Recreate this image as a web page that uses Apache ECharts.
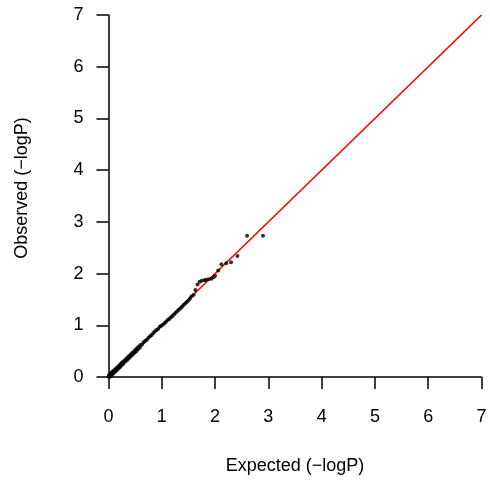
<!DOCTYPE html>
<html>
<head>
<meta charset="utf-8">
<script src="https://cdn.jsdelivr.net/npm/echarts@6/dist/echarts.min.js"></script>
<style>html,body{margin:0;padding:0;background:#fff}#c{width:490px;height:481px}</style>
</head>
<body>
<div id="c"></div>
<script>
var expectedVals = [0.005,0.01,0.02,0.03,0.04,0.05,0.06,0.07,0.08,0.09,0.10,0.11,0.12,0.13,0.14,0.15,0.16,0.17,0.18,0.19,0.20,0.21,0.22,0.23,0.24,0.25,0.26,0.27,0.28,0.30,0.32,0.33,0.35,0.36,0.38,0.39,0.41,0.42,0.44,0.45,0.47,0.48,0.50,0.51,0.53,0.54,0.56,0.57,0.59,0.60,0.63,0.66,0.69,0.72,0.75,0.78,0.81,0.84,0.87,0.90,0.93,0.96,0.99,1.02,1.05,1.08,1.11,1.14,1.17,1.20,1.23,1.26,1.29,1.32,1.35,1.38,1.41,1.44,1.47,1.50,1.53,1.56,1.60,1.63,1.67,1.71,1.75,1.80,1.83,1.88,1.93,1.97,2.00,2.06,2.12,2.21,2.30,2.42,2.60,2.90];
var observedVals = [0.01,0.04,0.00,0.05,0.02,0.08,0.04,0.09,0.06,0.12,0.08,0.13,0.10,0.15,0.12,0.17,0.14,0.19,0.16,0.21,0.18,0.23,0.20,0.25,0.22,0.27,0.24,0.29,0.26,0.32,0.30,0.35,0.33,0.38,0.36,0.41,0.39,0.44,0.42,0.47,0.45,0.50,0.48,0.53,0.51,0.56,0.54,0.59,0.57,0.62,0.63,0.67,0.70,0.72,0.76,0.79,0.81,0.85,0.88,0.91,0.93,0.97,0.99,1.01,1.04,1.07,1.10,1.12,1.15,1.18,1.21,1.24,1.27,1.30,1.33,1.36,1.39,1.42,1.45,1.48,1.52,1.56,1.59,1.68,1.79,1.84,1.86,1.87,1.88,1.89,1.90,1.93,1.96,2.06,2.18,2.20,2.22,2.34,2.73,2.73];
var refLine = [[0,0],[7,7]];
var axisTicks = [0,1,2,3,4,5,6,7];

var pts = expectedVals.map(function(e,i){return [e, observedVals[i]];});
var font = '"Liberation Sans", Arial, Helvetica, sans-serif';
var chart = echarts.init(document.getElementById('c'), null, {renderer:'canvas'});
chart.setOption({
  animation:false,
  backgroundColor:'#fff',
  grid:{left:108.5, right:8.5, top:15, bottom:104},
  xAxis:{
    type:'value', min:0, max:7, interval:1,
    name:'Expected (\u2212logP)', nameLocation:'middle', nameGap:80,
    nameTextStyle:{fontFamily:font, fontSize:18, color:'#000'},
    axisLine:{show:true, onZero:false, lineStyle:{color:'#000', width:1.5}},
    axisTick:{show:true, inside:false, length:12, lineStyle:{color:'#000', width:1.5}},
    axisLabel:{margin:31, fontFamily:font, fontSize:18, color:'#000'},
    splitLine:{show:false}
  },
  yAxis:{
    type:'value', min:0, max:7, interval:1,
    name:'Observed (\u2212logP)', nameLocation:'middle', nameGap:77,
    nameTextStyle:{fontFamily:font, fontSize:18, color:'#000', padding:[0,0,0,16]},
    axisLine:{show:true, onZero:false, lineStyle:{color:'#000', width:1.5}},
    axisTick:{show:true, inside:false, length:12, lineStyle:{color:'#000', width:1.5}},
    axisLabel:{margin:25, fontFamily:font, fontSize:18, color:'#000'},
    splitLine:{show:false}
  },
  series:[
    {type:'line', data:refLine, symbol:'none', z:1, lineStyle:{color:'#ff0000', width:1.6}, silent:true},
    {type:'scatter', data:pts, symbol:'circle', symbolSize:4, z:2, itemStyle:{color:'#000'}}
  ]
});
</script>
</body>
</html>
